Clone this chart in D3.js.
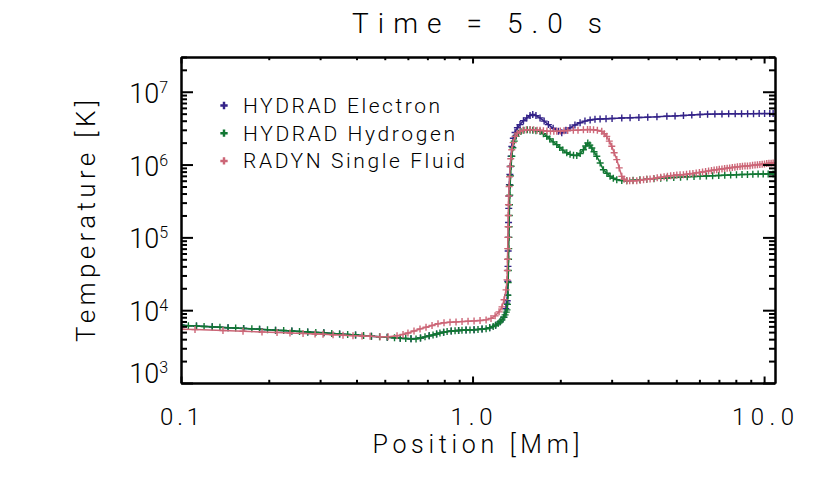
<!DOCTYPE html>
<html>
<head>
<meta charset="utf-8">
<script src="https://cdn.jsdelivr.net/npm/d3@7"></script>
<style>
  body { margin: 0; background: #fff; }
  svg { display: block; font-family: Roboto, "DejaVu Sans", sans-serif; font-weight: 300; }
</style>
</head>
<body>
<div id="chart"></div>
<script>
// values: position [Mm], temperature [K]
var electronX = [0.100, 0.113, 0.128, 0.145, 0.164, 0.186, 0.211, 0.240, 0.272, 0.309, 0.350, 0.397, 0.450, 0.510, 0.565, 0.615, 0.663, 0.710, 0.753, 0.796, 0.845, 0.896, 0.950, 1.012, 1.078, 1.145, 1.200, 1.244, 1.280, 1.300, 1.310, 1.315, 1.318, 1.321, 1.323, 1.325, 1.327, 1.329, 1.331, 1.334, 1.338, 1.343, 1.348, 1.356, 1.364, 1.380, 1.399, 1.425, 1.455, 1.495, 1.535, 1.575, 1.609, 1.650, 1.704, 1.760, 1.820, 1.890, 1.970, 2.023, 2.090, 2.160, 2.245, 2.338, 2.430, 2.531, 2.630, 2.738, 2.870, 3.010, 3.250, 3.470, 3.720, 3.990, 4.290, 4.640, 4.950, 5.290, 5.650, 6.030, 6.400, 6.780, 7.170, 7.560, 7.960, 8.370, 8.780, 9.200, 9.620, 10.04, 10.46, 10.74];
var electronT = [6200, 6050, 5900, 5760, 5620, 5470, 5320, 5180, 5030, 4880, 4720, 4560, 4400, 4250, 4120, 4040, 4150, 4440, 4720, 4980, 5160, 5270, 5330, 5400, 5500, 5720, 6200, 6950, 8000, 1.05e4, 1.25e4, 1.35e4, 1.6e4, 2.5e4, 4.0e4, 6.5e4, 1.0e5, 1.6e5, 2.5e5, 3.7e5, 5.3e5, 7.3e5, 9.4e5, 1.3e6, 1.77e6, 2.3e6, 2.75e6, 3.2e6, 3.54e6, 4.0e6, 4.37e6, 4.7e6, 4.86e6, 4.7e6, 4.37e6, 3.95e6, 3.54e6, 3.15e6, 2.86e6, 2.73e6, 2.95e6, 3.2e6, 3.5e6, 3.75e6, 3.95e6, 4.1e6, 4.18e6, 4.22e6, 4.26e6, 4.3e6, 4.35e6, 4.38e6, 4.43e6, 4.48e6, 4.52e6, 4.6e6, 4.66e6, 4.72e6, 4.8e6, 4.86e6, 4.9e6, 4.93e6, 4.95e6, 4.97e6, 4.98e6, 4.99e6, 5.0e6, 5.0e6, 5.01e6, 5.01e6, 5.01e6, 5.01e6];

var hydrogenX = [0.100, 0.106, 0.113, 0.120, 0.128, 0.136, 0.145, 0.154, 0.164, 0.175, 0.186, 0.198, 0.211, 0.225, 0.240, 0.255, 0.272, 0.290, 0.309, 0.329, 0.350, 0.373, 0.397, 0.423, 0.450, 0.480, 0.510, 0.540, 0.565, 0.590, 0.615, 0.640, 0.663, 0.687, 0.710, 0.732, 0.753, 0.773, 0.796, 0.818, 0.845, 0.871, 0.896, 0.920, 0.950, 0.980, 1.012, 1.044, 1.078, 1.113, 1.145, 1.177, 1.200, 1.224, 1.244, 1.262, 1.280, 1.293, 1.305, 1.313, 1.318, 1.322, 1.325, 1.327, 1.329, 1.331, 1.333, 1.335, 1.337, 1.339, 1.342, 1.346, 1.350, 1.356, 1.364, 1.375, 1.390, 1.410, 1.435, 1.465, 1.500, 1.540, 1.575, 1.610, 1.650, 1.704, 1.750, 1.797, 1.840, 1.890, 1.945, 1.990, 2.040, 2.105, 2.160, 2.220, 2.278, 2.340, 2.400, 2.445, 2.485, 2.525, 2.565, 2.610, 2.668, 2.740, 2.811, 2.890, 2.963, 3.040, 3.124, 3.250, 3.380, 3.553, 3.750, 3.960, 4.190, 4.420, 4.640, 4.900, 5.170, 5.450, 5.750, 6.030, 6.340, 6.660, 6.990, 7.330, 7.680, 8.040, 8.400, 8.770, 9.150, 9.540, 9.930, 10.33, 10.74];
var hydrogenT = [6200, 6120, 6050, 5980, 5900, 5830, 5760, 5690, 5620, 5540, 5470, 5400, 5320, 5250, 5180, 5100, 5030, 4950, 4880, 4800, 4720, 4640, 4560, 4480, 4400, 4320, 4250, 4180, 4120, 4080, 4040, 4030, 4150, 4300, 4440, 4570, 4720, 4860, 4980, 5080, 5160, 5230, 5270, 5300, 5330, 5360, 5400, 5440, 5500, 5560, 5720, 5960, 6200, 6570, 6950, 7360, 8000, 8610, 9400, 1.01e4, 1.2e4, 1.6e4, 2.4e4, 3.5e4, 5.0e4, 7.0e4, 1.0e5, 1.4e5, 2.0e5, 2.8e5, 3.8e5, 5.2e5, 7.0e5, 9.5e5, 1.3e6, 1.7e6, 2.1e6, 2.45e6, 2.7e6, 2.85e6, 2.95e6, 3.0e6, 2.98e6, 2.95e6, 2.92e6, 2.86e6, 2.65e6, 2.44e6, 2.25e6, 2.05e6, 1.88e6, 1.72e6, 1.58e6, 1.45e6, 1.38e6, 1.34e6, 1.33e6, 1.42e6, 1.60e6, 1.80e6, 1.98e6, 1.85e6, 1.69e6, 1.50e6, 1.30e6, 1.05e6, 8.5e5, 7.6e5, 6.9e5, 6.5e5, 6.2e5, 6.05e5, 6.0e5, 6.1e5, 6.2e5, 6.3e5, 6.4e5, 6.48e5, 6.55e5, 6.65e5, 6.72e5, 6.8e5, 6.86e5, 6.89e5, 6.95e5, 7.02e5, 7.08e5, 7.15e5, 7.2e5, 7.25e5, 7.3e5, 7.33e5, 7.36e5, 7.39e5, 7.41e5, 7.42e5, 7.43e5];

var radynX = [0.100, 0.1117, 0.1393, 0.1632, 0.1896, 0.2135, 0.2365, 0.2622, 0.2883, 0.3070, 0.3323, 0.3595, 0.389, 0.4178, 0.4452, 0.4816, 0.5131, 0.5508, 0.5775, 0.6005, 0.6298, 0.6604, 0.6925, 0.7262, 0.7612, 0.7982, 0.837, 0.8777, 0.9204, 0.9651, 1.012, 1.061, 1.113, 1.157, 1.195, 1.233, 1.262, 1.283, 1.303, 1.313, 1.316, 1.318, 1.320, 1.322, 1.324, 1.326, 1.328, 1.330, 1.335, 1.340, 1.345, 1.352, 1.363, 1.378, 1.399, 1.425, 1.455, 1.490, 1.530, 1.575, 1.620, 1.665, 1.704, 1.750, 1.800, 1.850, 1.900, 1.945, 2.000, 2.060, 2.120, 2.217, 2.300, 2.400, 2.480, 2.531, 2.600, 2.680, 2.775, 2.830, 2.886, 2.945, 3.003, 3.060, 3.124, 3.185, 3.250, 3.310, 3.381, 3.460, 3.550, 3.659, 3.760, 3.860, 3.960, 4.064, 4.180, 4.300, 4.420, 4.540, 4.660, 4.780, 4.900, 5.020, 5.150, 5.287, 5.420, 5.560, 5.700, 5.850, 6.000, 6.150, 6.300, 6.450, 6.600, 6.740, 6.880, 7.020, 7.170, 7.320, 7.470, 7.620, 7.780, 7.940, 8.100, 8.270, 8.430, 8.600, 8.770, 8.950, 9.130, 9.310, 9.490, 9.670, 9.850, 10.03, 10.21, 10.39, 10.57, 10.74];
var radynT = [5480, 5410, 5260, 5140, 5030, 4950, 4870, 4800, 4720, 4680, 4600, 4530, 4470, 4420, 4380, 4320, 4330, 4460, 4650, 4870, 5190, 5530, 5840, 6170, 6520, 6730, 6840, 6900, 6970, 7060, 7130, 7220, 7360, 7710, 8360, 9480, 1.11e4, 1.39e4, 1.9e4, 2.61e4, 3.5e4, 5.0e4, 7.0e4, 1.0e5, 1.4e5, 2.0e5, 2.8e5, 3.7e5, 5.0e5, 6.8e5, 9.4e5, 1.2e6, 1.6e6, 2.0e6, 2.44e6, 2.7e6, 2.86e6, 2.95e6, 3.0e6, 3.02e6, 3.0e6, 2.97e6, 2.96e6, 2.92e6, 2.88e6, 2.86e6, 2.86e6, 2.86e6, 2.88e6, 2.91e6, 2.93e6, 2.95e6, 2.97e6, 3.0e6, 3.02e6, 3.02e6, 3.0e6, 2.95e6, 2.86e6, 2.65e6, 2.44e6, 2.1e6, 1.78e6, 1.45e6, 1.17e6, 9.0e5, 6.89e5, 6.3e5, 6.01e5, 6.0e5, 6.0e5, 6.01e5, 6.1e5, 6.2e5, 6.27e5, 6.34e5, 6.45e5, 6.57e5, 6.7e5, 6.82e5, 6.92e5, 7.02e5, 7.1e5, 7.18e5, 7.22e5, 7.26e5, 7.35e5, 7.45e5, 7.55e5, 7.68e5, 7.8e5, 7.92e5, 8.05e5, 8.18e5, 8.3e5, 8.42e5, 8.51e5, 8.6e5, 8.7e5, 8.8e5, 8.9e5, 9.0e5, 9.1e5, 9.2e5, 9.3e5, 9.38e5, 9.45e5, 9.52e5, 9.59e5, 9.66e5, 9.75e5, 9.85e5, 9.95e5, 1.003e6, 1.01e6, 1.02e6, 1.03e6, 1.04e6, 1.045e6, 1.05e6];

var seriesNames = ["HYDRAD Electron", "HYDRAD Hydrogen", "RADYN Single Fluid"];
var xMajor = [0.1, 1, 10];
var xMajorLabels = ["0.1", "1.0", "10.0"];
var yMajor = [1e3, 1e4, 1e5, 1e6, 1e7];
var yExponents = ["3", "4", "5", "6", "7"];

var width = 830, height = 498;
var margin = {top: 57, right: 55, bottom: 115, left: 181};
var colors = ["#332288", "#117733", "#CC6677"];

var svg = d3.select("#chart").append("svg")
  .attr("width", width)
  .attr("height", height);

var x = d3.scaleLog()
  .domain([0.1, 10.9])
  .range([margin.left, width - margin.right]);

var y = d3.scaleLog()
  .domain([1e3, 3e7])
  .range([height - margin.bottom, margin.top]);

svg.append("clipPath").attr("id", "plotclip")
  .append("rect")
  .attr("x", margin.left).attr("y", margin.top)
  .attr("width", width - margin.left - margin.right)
  .attr("height", height - margin.top - margin.bottom);

// series
var series = [
  {name: seriesNames[0], xs: electronX, ts: electronT, color: colors[0]},
  {name: seriesNames[1], xs: hydrogenX, ts: hydrogenT, color: colors[1]},
  {name: seriesNames[2], xs: radynX, ts: radynT, color: colors[2]}
];

var line = d3.line()
  .x(function(d) { return x(d[0]); })
  .y(function(d) { return y(d[1]); });

var plot = svg.append("g").attr("clip-path", "url(#plotclip)");

series.forEach(function(s) {
  var pts = d3.zip(s.xs, s.ts);
  var g = plot.append("g");
  g.append("path")
    .datum(pts)
    .attr("fill", "none")
    .attr("stroke", s.color)
    .attr("stroke-width", 1.5)
    .attr("d", line);
  g.selectAll("path.mk").data(pts)
    .enter().append("path")
      .attr("class", "mk")
      .attr("d", "M-3.5,0H3.5M0,-3.5V3.5")
      .attr("transform", function(d) { return "translate(" + x(d[0]) + "," + y(d[1]) + ")"; })
      .attr("stroke", s.color)
      .attr("stroke-width", 1.4)
      .attr("fill", "none");
});

// axes, IDL-style ticks pointing inward on every side
var xb = height - margin.bottom, yl = margin.left;
var isMajor = function(v) { return Math.abs(Math.log10(v) - Math.round(Math.log10(v))) < 1e-6; };
var xMinor = x.ticks().filter(function(v) { return !isMajor(v); });
var yMinor = y.ticks().filter(function(v) { return !isMajor(v); });

function drawAxis(axisFn, scale, transform, ticks, len) {
  var g = svg.append("g")
    .attr("transform", transform)
    .call(axisFn(scale).tickValues(ticks).tickSize(-len).tickSizeOuter(0).tickFormat(""));
  g.selectAll("line").attr("stroke-width", 2).attr("stroke", "#000");
  g.select(".domain").attr("stroke-width", 2).attr("stroke", "#000");
  return g;
}

drawAxis(d3.axisBottom, x, "translate(0," + xb + ")", xMajor, 6.5);
drawAxis(d3.axisBottom, x, "translate(0," + xb + ")", xMinor, 3.2);
drawAxis(d3.axisTop, x, "translate(0," + margin.top + ")", xMajor, 6.5);
drawAxis(d3.axisTop, x, "translate(0," + margin.top + ")", xMinor, 3.2);
drawAxis(d3.axisLeft, y, "translate(" + yl + ",0)", yMajor, 12);
drawAxis(d3.axisLeft, y, "translate(" + yl + ",0)", yMinor, 6);
drawAxis(d3.axisRight, y, "translate(" + (width - margin.right) + ",0)", yMajor, 12);
drawAxis(d3.axisRight, y, "translate(" + (width - margin.right) + ",0)", yMinor, 6);

// tick labels
svg.selectAll("text.xl").data(xMajor)
  .enter().append("text")
    .attr("x", function(d) { return x(d) - 1; })
    .attr("y", 425)
    .attr("text-anchor", "middle")
    .attr("font-size", 24)
    .attr("textLength", function(d, i) { return [40, 42, 62][i]; })
    .attr("lengthAdjust", "spacing")
    .text(function(d, i) { return xMajorLabels[i]; });

var ylab = svg.selectAll("text.yl").data(yMajor)
  .enter().append("text")
    .attr("x", 168)
    .attr("y", function(d) { return Math.min(y(d) + 11, xb); })
    .attr("text-anchor", "end")
    .attr("font-size", 27);
ylab.append("tspan").text("10");
ylab.append("tspan")
  .attr("font-size", 16)
  .attr("dy", -10)
  .text(function(d, i) { return yExponents[i]; });

// titles
svg.append("text")
  .attr("x", 477).attr("y", 33)
  .attr("text-anchor", "middle")
  .attr("font-size", 28)
  .attr("textLength", 250).attr("lengthAdjust", "spacing")
  .text("Time = 5.0 s");

svg.append("text")
  .attr("x", 476).attr("y", 453)
  .attr("text-anchor", "middle")
  .attr("font-size", 25)
  .attr("textLength", 207).attr("lengthAdjust", "spacing")
  .text("Position [Mm]");

svg.append("text")
  .attr("transform", "translate(95,221) rotate(-90)")
  .attr("text-anchor", "middle")
  .attr("font-size", 26)
  .attr("textLength", 242).attr("lengthAdjust", "spacing")
  .text("Temperature [K]");

// legend
var legendW = [197, 212, 222];
var leg = svg.selectAll("g.leg").data(series)
  .enter().append("g")
    .attr("transform", function(d, i) { return "translate(224," + (105.5 + i * 27.7) + ")"; });
leg.append("path")
  .attr("d", d3.symbol(d3.symbolCross).size(30))
  .attr("fill", function(d) { return d.color; });
leg.append("text")
  .attr("x", 19).attr("y", 7.5)
  .attr("font-size", 21)
  .attr("textLength", function(d, i) { return legendW[i]; })
  .attr("lengthAdjust", "spacing")
  .text(function(d) { return d.name; });
</script>
</body>
</html>
